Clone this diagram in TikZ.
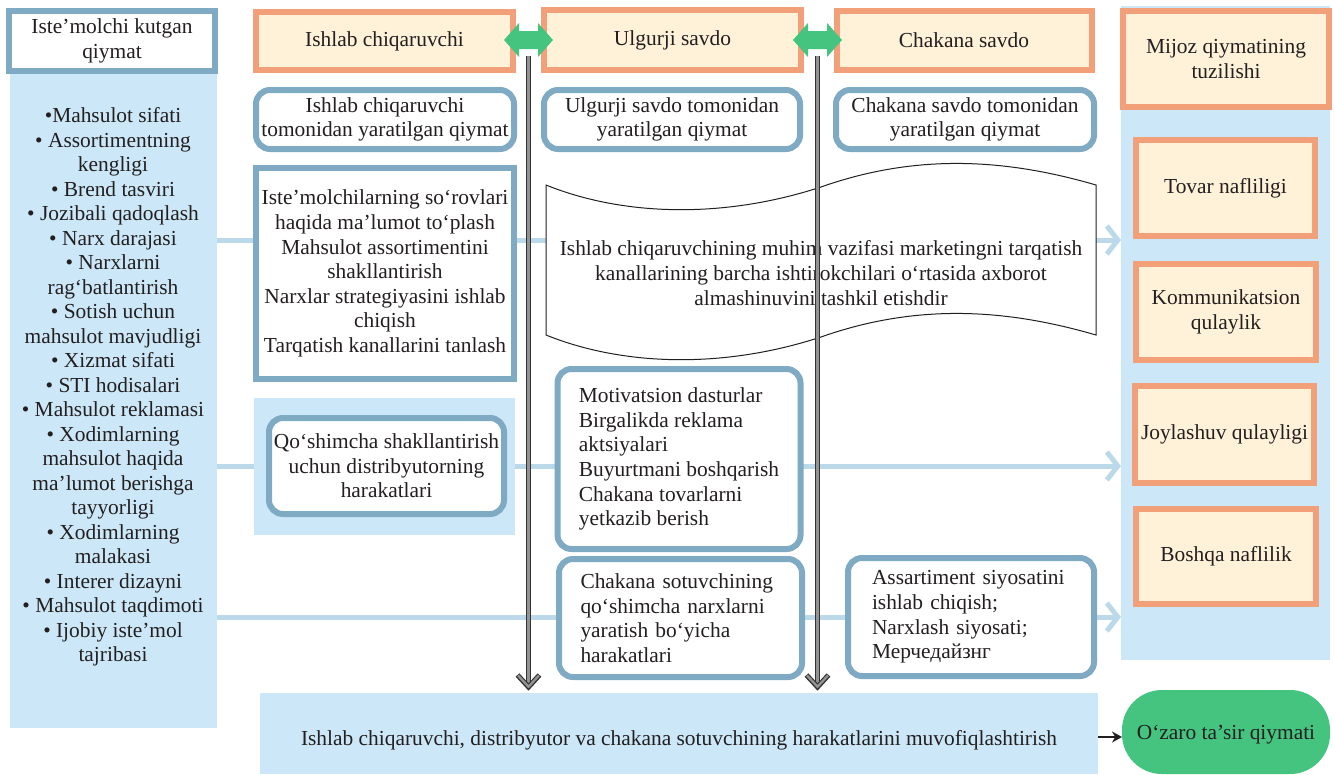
\documentclass[tikz,border=0pt]{standalone}
\usepackage{fontspec}
\setmainfont{Liberation Serif}
\usetikzlibrary{arrows.meta}
\definecolor{lblue}{HTML}{CCE8F8}
\definecolor{lline}{HTML}{BCD9EA}
\definecolor{steel}{HTML}{7FAAC4}
\definecolor{salmon}{HTML}{F2A07A}
\definecolor{cream}{HTML}{FFF2D8}
\definecolor{mgreen}{HTML}{45C480}
\definecolor{ink}{HTML}{231F20}
\begin{document}
\begin{tikzpicture}[x=1pt,y=-1pt,
 every node/.style={font=\fontsize{21.4}{24.6}\selectfont, text=ink, inner sep=0pt, outer sep=0pt},
 obox/.style={draw=salmon, line width=6pt, fill=cream, align=center},
 rbox/.style={draw=steel, line width=6pt, fill=white, rounded corners=14pt, align=center},
 sbox/.style={draw=steel, line width=6pt, fill=white, align=center},
 bgbox/.style={fill=lblue, draw=none},
 flow/.style={draw=lline, line width=5pt, -{Straight Barb[length=11pt,width=28pt]}},
 vshaft/.style={line width=1.3pt, draw=black!80, double=gray!85, double distance=2.4pt},
 ]
\useasboundingbox (0,0) rectangle (1335,774);
\fill[white] (0,0) rectangle (1335,774);

% backgrounds
\node[bgbox, minimum width=207pt, minimum height=658pt] (lcol) at (113.5,399) {};
\node[bgbox, minimum width=209pt, minimum height=654pt] (rcol) at (1225.5,333) {};

% flow lines
\draw[flow] (lcol.east |- 0,240) -- (rcol.west |- 0,240);
\draw[flow] (lcol.east |- 0,466) -- (rcol.west |- 0,466);
\draw[flow] (lcol.east |- 0,617) -- (rcol.west |- 0,617);

\node[bgbox, minimum width=261pt, minimum height=137pt] (qbg) at (384.5,466.5) {};

% left column
\node[sbox, minimum width=206pt, minimum height=60pt] (lhead) at (112,41) {Iste’molchi kutgan\\qiymat};
\node[align=center, font=\fontsize{21.4}{24.5}\selectfont] (ltext) at (113,387) {•Mahsulot sifati\\• Assortimentning\\kengligi\\• Brend tasviri\\• Jozibali qadoqlash\\• Narx darajasi\\• Narxlarni\\rag‘batlantirish\\• Sotish uchun\\mahsulot mavjudligi\\• Xizmat sifati\\• STI hodisalari\\• Mahsulot reklamasi\\• Xodimlarning\\mahsulot haqida\\ma’lumot berishga\\tayyorligi\\• Xodimlarning\\malakasi\\• Interer dizayni\\• Mahsulot taqdimoti\\• Ijobiy iste’mol\\tajribasi};

% top row
\node[obox, minimum width=257pt, minimum height=58pt] (prod) at (384.5,41) {Ishlab chiqaruvchi};
\node[obox, minimum width=257pt, minimum height=60pt] (whol) at (672.5,40) {Ulgurji savdo};
\node[obox, minimum width=255pt, minimum height=59pt] (ret) at (964,40.5) {Chakana savdo};
\node[obox, minimum width=206pt, minimum height=96pt] (mij) at (1226,59) {Mijoz qiymatining\\tuzilishi};

% second row
\node[rbox, minimum width=258pt, minimum height=59pt] (pv) at (385,119.5) {Ishlab chiqaruvchi\\tomonidan yaratilgan qiymat};
\node[rbox, minimum width=256pt, minimum height=59pt] (wv) at (672,119.5) {Ulgurji savdo tomonidan\\yaratilgan qiymat};
\node[rbox, minimum width=258pt, minimum height=59pt] (rv) at (965,119.5) {Chakana savdo tomonidan\\yaratilgan qiymat};

% producer tasks
\node[sbox, minimum width=258pt, minimum height=211pt] (tasks) at (385,273.5) {Iste’molchilarning so‘rovlari\\haqida ma’lumot to‘plash\\Mahsulot assortimentini\\shakllantirish\\Narxlar strategiyasini ishlab\\chiqish\\Tarqatish kanallarini tanlash};

% wave banner
\draw[line width=1pt, draw=ink, fill=white] (546,185) .. controls (620,215) and (720,220) .. (821,187) .. controls (920,152) and (1010,160) .. (1096,185) -- (1096,335) .. controls (1010,310) and (920,302) .. (821,337) .. controls (720,370) and (620,365) .. (546,335) -- cycle;
\node[align=center] (wtext) at (821,273) {Ishlab chiqaruvchining muhim vazifasi marketingni tarqatish\\kanallarining barcha ishtirokchilari o‘rtasida axborot\\almashinuvini tashkil etishdir};

% distributor
\node[rbox, minimum width=235pt, minimum height=96pt] (dist) at (386.5,466) {Qo‘shimcha shakllantirish\\uchun distribyutorning\\harakatlari};
\node[rbox, minimum width=243pt, minimum height=180pt, align=left] (mot) at (679,459) {Motivatsion dasturlar\\Birgalikda reklama\\aktsiyalari\\Buyurtmani boshqarish\\Chakana tovarlarni\\yetkazib berish};
\node[rbox, minimum width=243pt, minimum height=118pt, text width=200pt, align=left] (rs) at (680.5,618) {Chakana sotuvchining\\qo‘shimcha narxlarni\\yaratish bo‘yicha\\harakatlari};
\node[rbox, minimum width=246pt, minimum height=118pt, text width=198pt, align=left] (as) at (971,617) {Assartiment siyosatini\\ishlab chiqish;\\Narxlash siyosati;\\Мерчедайзнг};

% right column boxes
\node[obox, minimum width=179pt, minimum height=96pt] (tov) at (1225.5,188) {Tovar nafliligi};
\node[obox, minimum width=180pt, minimum height=96pt] (kom) at (1226,312) {Kommunikatsion\\qulaylik};
\node[obox, minimum width=179pt, minimum height=97pt] (joy) at (1224.5,434.5) {Joylashuv qulayligi};
\node[obox, minimum width=180pt, minimum height=95pt] (bos) at (1226,556) {Boshqa naflilik};

% bottom
\node[bgbox, minimum width=838pt, minimum height=81pt] (bot) at (679,733.5) {};
\node (bottxt) at (679,740) {Ishlab chiqaruvchi, distribyutor va chakana sotuvchining harakatlarini muvofiqlashtirish};
\node[fill=mgreen, rounded corners=40pt, minimum width=208pt, minimum height=84pt, text height=14pt, text depth=0pt] (res) at (1226,732) {O‘zaro ta’sir qiymati};
\draw[line width=2pt, draw=ink, -{Stealth[length=10pt,width=11pt]}] (bot.east |- 0,737) -- (res.west |- 0,737);

% vertical arrows
\coordinate (vas) at (528.5,56);
\coordinate (vbs) at (817.5,56);
\foreach \v in {vas,vbs}{
  \draw[vshaft] (\v) -- ([yshift=10pt]\v |- bot.north);
  \draw[line width=5pt, draw=black!80, line join=miter] ([xshift=-11pt,yshift=18pt]\v |- bot.north) -- ([yshift=6pt]\v |- bot.north) -- ([xshift=11pt,yshift=18pt]\v |- bot.north);
  \draw[line width=2.4pt, draw=gray!85, line join=miter] ([xshift=-10.5pt,yshift=17.6pt]\v |- bot.north) -- ([yshift=6.3pt]\v |- bot.north) -- ([xshift=10.5pt,yshift=17.6pt]\v |- bot.north);
}

% green double arrows
\fill[mgreen] (504,40) -- (519,23) -- (519,31) -- (538,31) -- (538,23) -- (553,40) -- (538,57) -- (538,49) -- (519,49) -- (519,57) -- cycle;
\fill[mgreen] (793,40) -- (808,23) -- (808,31) -- (827,31) -- (827,23) -- (842,40) -- (827,57) -- (827,49) -- (808,49) -- (808,57) -- cycle;
\end{tikzpicture}
\end{document}
